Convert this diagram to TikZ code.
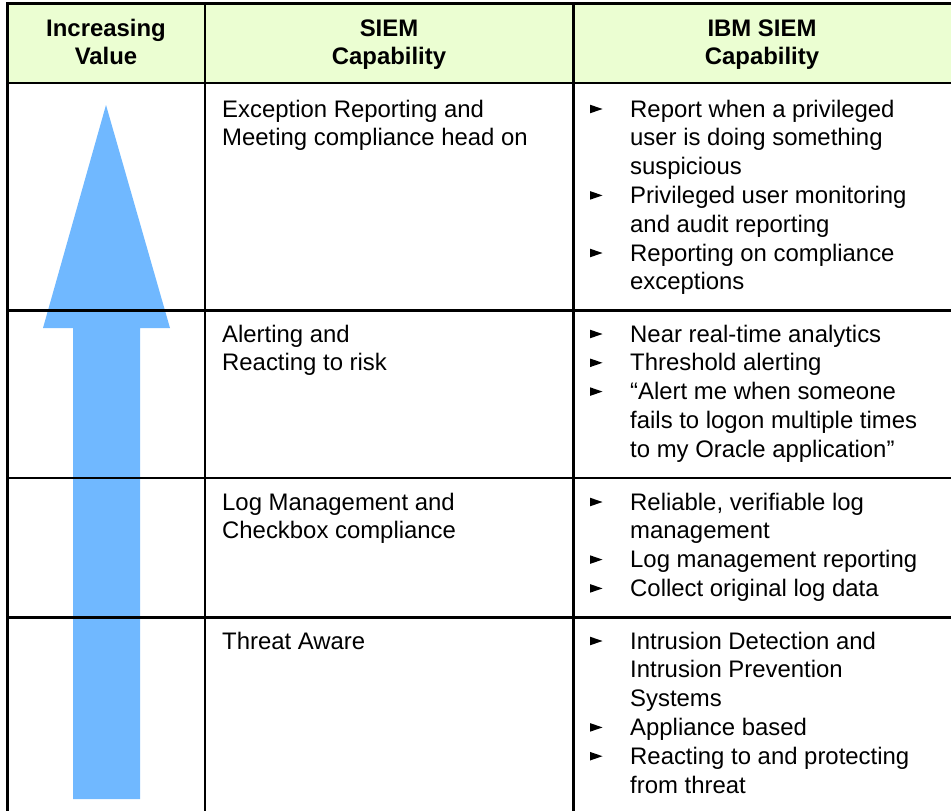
\documentclass[tikz,border=0pt]{standalone}
\usepackage{fontspec}
\setmainfont{Liberation Sans}
\definecolor{hdrgreen}{RGB}{235,254,210}
\definecolor{arrowblue}{RGB}{112,184,255}
\newcommand\bulletat[1]{\fill (590,#1-12.3) -- (602.5,#1-8) -- (590,#1-3.7) -- cycle;}
\begin{document}
\begin{tikzpicture}[x=1pt,y=-1pt,
  txt/.style={anchor=base west,inner sep=0pt,font=\fontsize{23.9}{28.8}\selectfont},
  hdr/.style={anchor=base,inner sep=0pt,font=\fontsize{23.9}{28.8}\selectfont\bfseries},
  rulel/.style={line width=2.8pt}]
\useasboundingbox (0,0) rectangle (951,811);
\begin{scope}
\clip (0,0) rectangle (951,811);
\fill[hdrgreen] (7,3.7) rectangle (960,83);
\fill[arrowblue] (106,105) -- (170,328) -- (140,328) -- (140,799) -- (73,799) -- (73,328) -- (43,328) -- cycle;
\draw[rulel] (7.2,3.7) -- (960,3.7);
\draw[rulel] (7.2,83) -- (960,83);
\draw[rulel] (7.2,310.5) -- (960,310.5);
\draw[rulel] (7.2,478) -- (960,478);
\draw[rulel] (7.2,617.5) -- (960,617.5);
\draw[rulel] (7.2,2.3) -- (7.2,820);
\draw[rulel] (205,2.3) -- (205,820);
\draw[rulel] (573.5,2.3) -- (573.5,820);
\end{scope}
% headers
\node[hdr] (h1a) at (106,36) {Increasing};
\node[hdr] (h1b) at (106,64.5) {Value};
\node[hdr] (h2a) at (389,36) {SIEM};
\node[hdr] (h2b) at (389,64.5) {Capability};
\node[hdr] (h3a) at (762,36) {IBM SIEM};
\node[hdr] (h3b) at (762,64.5) {Capability};
% middle column
\node[txt] (m1a) at (222,117) {Exception Reporting and};
\node[txt] (m1b) at (222,145.8) {Meeting compliance head on};
\node[txt] (m2a) at (222,342) {Alerting and};
\node[txt] (m2b) at (222,370.8) {Reacting to risk};
\node[txt] (m3a) at (222,510) {Log Management and};
\node[txt] (m3b) at (222,538.8) {Checkbox compliance};
\node[txt] (m4a) at (222,649) {Threat Aware};
% right column row 1
\bulletat{117}\bulletat{203.4}\bulletat{261}
\node[txt] (r1a) at (630,117) {Report when a privileged};
\node[txt] (r1b) at (630,145.8) {user is doing something};
\node[txt] (r1c) at (630,174.6) {suspicious};
\node[txt] (r1d) at (630,203.4) {Privileged user monitoring};
\node[txt] (r1e) at (630,232.2) {and audit reporting};
\node[txt] (r1f) at (630,261) {Reporting on compliance};
\node[txt] (r1g) at (630,289.8) {exceptions};
% row 2
\bulletat{342}\bulletat{370.8}\bulletat{399.6}
\node[txt] (r2a) at (630,342) {Near real-time analytics};
\node[txt] (r2b) at (630,370.8) {Threshold alerting};
\node[txt] (r2c) at (630,399.6) {“Alert me when someone};
\node[txt] (r2d) at (630,428.4) {fails to logon multiple times};
\node[txt] (r2e) at (630,457.2) {to my Oracle application”};
% row 3
\bulletat{510}\bulletat{567.6}\bulletat{596.4}
\node[txt] (r3a) at (630,510) {Reliable, verifiable log};
\node[txt] (r3b) at (630,538.8) {management};
\node[txt] (r3c) at (630,567.6) {Log management reporting};
\node[txt] (r3d) at (630,596.4) {Collect original log data};
% row 4
\bulletat{649}\bulletat{735.4}\bulletat{764.2}
\node[txt] (r4a) at (630,649) {Intrusion Detection and};
\node[txt] (r4b) at (630,677.8) {Intrusion Prevention};
\node[txt] (r4c) at (630,706.6) {Systems};
\node[txt] (r4d) at (630,735.4) {Appliance based};
\node[txt] (r4e) at (630,764.2) {Reacting to and protecting};
\node[txt] (r4f) at (630,793) {from threat};
\end{tikzpicture}
\end{document}
